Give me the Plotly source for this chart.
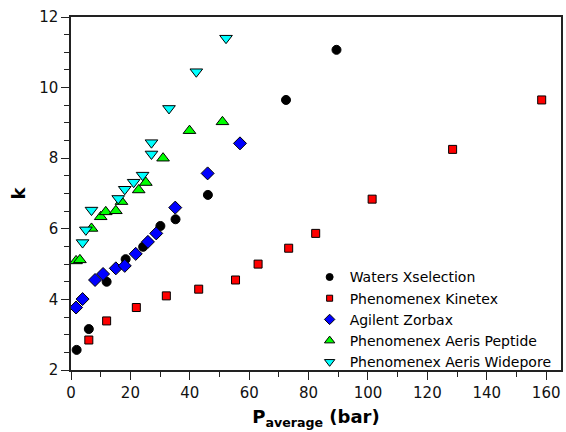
import plotly.graph_objects as go

# Waters Xselection
waters_x = [1.9, 6.0, 12.0, 18.4, 24.3, 30.1, 35.2, 46.1, 72.4, 89.4]
waters_y = [2.57, 3.16, 4.50, 5.14, 5.49, 6.08, 6.27, 6.96, 9.65, 11.07]

# Phenomenex Kinetex
kinetex_x = [6.0, 12.0, 22.0, 32.1, 43.0, 55.4, 63.0, 73.3, 82.4, 101.4, 128.5, 158.5]
kinetex_y = [2.85, 3.39, 3.77, 4.10, 4.29, 4.55, 5.00, 5.45, 5.87, 6.84, 8.25, 9.65]

# Agilent Zorbax
zorbax_x = [1.7, 3.9, 8.1, 10.8, 15.1, 18.1, 21.8, 25.9, 28.7, 35.1, 46.0, 56.9]
zorbax_y = [3.77, 4.01, 4.55, 4.72, 4.88, 4.95, 5.29, 5.63, 5.87, 6.60, 7.57, 8.42]

# Phenomenex Aeris Peptide
peptide_x = [1.7, 3.0, 6.9, 10.0, 11.7, 15.1, 17.0, 22.8, 25.2, 31.0, 39.9, 51.0]
peptide_y = [5.09, 5.12, 6.01, 6.34, 6.48, 6.51, 6.77, 7.10, 7.31, 8.00, 8.78, 9.03]

# Phenomenex Aeris Widepore
widepore_x = [3.9, 5.0, 6.9, 15.9, 18.1, 21.1, 24.1, 27.1, 27.1, 33.0, 42.2, 52.2]
widepore_y = [5.61, 5.97, 6.53, 6.86, 7.12, 7.32, 7.52, 8.12, 8.44, 9.41, 10.45, 11.40]

series = [
    ("Waters Xselection", waters_x, waters_y, "circle", "#000000", 9),
    ("Phenomenex Kinetex", kinetex_x, kinetex_y, "square", "#ff0000", 8),
    ("Agilent Zorbax", zorbax_x, zorbax_y, "diamond", "#0000ff", 10),
    ("Phenomenex Aeris Peptide", peptide_x, peptide_y, "triangle-up", "#00ff00", 11),
    ("Phenomenex Aeris Widepore", widepore_x, widepore_y, "triangle-down", "#00ffff", 11),
]

FONT = "Tahoma, DejaVu Sans, sans-serif"

fig = go.Figure()
for name, xs, ys, sym, col, sz in series:
    fig.add_trace(go.Scatter(
        x=xs, y=ys, mode="markers", name=name, showlegend=False,
        legendgroup=name,
        marker=dict(symbol=sym, color=col, size=sz,
                    line=dict(color="#000000", width=1)),
    ))
# legend entries with smaller symbols, as in the reference
for name, xs, ys, sym, col, sz in series:
    fig.add_trace(go.Scatter(
        x=[None], y=[None], mode="markers", name=name, showlegend=True,
        legendgroup=name,
        marker=dict(symbol=sym, color=col, size=sz - 2,
                    line=dict(color="#000000", width=1)),
    ))

axis_common = dict(
    showgrid=False, zeroline=False, showline=True, linecolor="#222222",
    linewidth=1.5, mirror=True, ticks="outside", tickcolor="#222222",
    tickwidth=1.2, tickfont=dict(family=FONT, size=15, color="#111111"),
)

fig.update_xaxes(
    range=[0, 165], tickvals=[0, 20, 40, 60, 80, 100, 120, 140, 160],
    ticklen=8,
    minor=dict(dtick=10, tick0=0, ticks="outside", ticklen=5,
               tickcolor="#222222", tickwidth=1.2),
    title=dict(text="<b>P<sub>average</sub> (bar)</b>",
               font=dict(family=FONT, size=18, color="#000000"), standoff=10),
    **axis_common,
)
fig.update_yaxes(
    range=[2, 12], tickvals=[2, 4, 6, 8, 10, 12],
    ticklen=8,
    minor=dict(dtick=0.5, tick0=2, ticks="outside", ticklen=5,
               tickcolor="#222222", tickwidth=1.2),
    title=dict(text="<b>k</b>",
               font=dict(family=FONT, size=18, color="#000000"), standoff=9),
    **axis_common,
)

fig.update_layout(
    width=566, height=432,
    margin=dict(l=71, r=3, t=17, b=62),
    plot_bgcolor="#ffffff", paper_bgcolor="#ffffff",
    font=dict(family=FONT, color="#000000"),
    legend=dict(x=0.487, y=-0.021, xanchor="left", yanchor="bottom",
                bgcolor="rgba(0,0,0,0)", borderwidth=0,
                font=dict(family=FONT, size=14, color="#000000"),
                tracegroupgap=0),
    showlegend=True,
)

fig.write_html("out.html")
